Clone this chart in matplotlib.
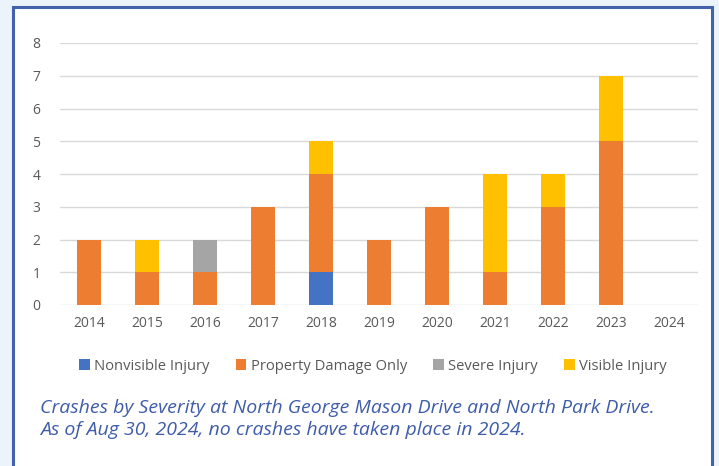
import matplotlib.pyplot as plt
from matplotlib.patches import Rectangle
import numpy as np

# Crash counts by year and severity
years = ['2014', '2015', '2016', '2017', '2018', '2019', '2020', '2021', '2022', '2023', '2024']
nonvisible = [0, 0, 0, 0, 1, 0, 0, 0, 0, 0, 0]
property_damage = [2, 1, 1, 3, 3, 2, 3, 1, 3, 5, 0]
severe = [0, 0, 1, 0, 0, 0, 0, 0, 0, 0, 0]
visible = [0, 1, 0, 0, 1, 0, 0, 3, 1, 2, 0]

series = [
    ('Nonvisible Injury', nonvisible, '#4472C4'),
    ('Property Damage Only', property_damage, '#ED7D31'),
    ('Severe Injury', severe, '#A5A5A5'),
    ('Visible Injury', visible, '#FFC000'),
]

plt.rcParams['font.family'] = ['Open Sans', 'DejaVu Sans']

fig = plt.figure(figsize=(7.19, 4.66), dpi=100)
fig.patch.set_facecolor('#EBF3FB')

# white card with blue border
card = Rectangle((13 / 719, -0.05), (712 - 13) / 719, 1 - 7 / 466 + 0.05,
                 transform=fig.transFigure, facecolor='white',
                 edgecolor='#4262AB', linewidth=2.2, zorder=-5)
fig.patches.append(card)

ax = fig.add_axes([60 / 719, 1 - 305 / 466, (698 - 60) / 719, (305 - 43) / 466])
ax.set_zorder(2)
ax.set_facecolor('white')

x = np.arange(len(years))
bottom = np.zeros(len(years))
handles = []
for name, vals, col in series:
    vals = np.array(vals)
    b = ax.bar(x, vals, 0.4, bottom=bottom, color=col, label=name, zorder=3)
    handles.append(b)
    bottom += vals

ax.set_xlim(-0.5, len(years) - 0.5)
ax.set_ylim(0, 8)
ax.set_yticks(range(0, 9))
ax.set_xticks(x)
ax.set_xticklabels(years)
ax.grid(axis='y', color='#D9D9D9', linewidth=1, zorder=0)
for s in ax.spines.values():
    s.set_visible(False)
ax.tick_params(length=0, colors='#595959', labelsize=10)
ax.tick_params(axis='y', pad=14)
ax.tick_params(axis='x', pad=8)

leg = fig.legend(handles=handles, loc='center', bbox_to_anchor=(373 / 719, 1 - 366 / 466),
                 ncol=4, frameon=False, fontsize=10.6, handlelength=0.7, handleheight=0.7,
                 handletextpad=0.3, columnspacing=1.8, labelcolor='#595959')
leg.set_zorder(3)

fig.text(40 / 719, 1 - 408 / 466, 'Crashes by Severity at North George Mason Drive and North Park Drive.',
         color='#3E5CA8', fontsize=14, style='italic', va='center')
fig.text(40 / 719, 1 - 430 / 466, 'As of Aug 30, 2024, no crashes have taken place in 2024.',
         color='#3E5CA8', fontsize=14, style='italic', va='center')

fig.savefig('out.png', dpi=100, facecolor=fig.get_facecolor())
